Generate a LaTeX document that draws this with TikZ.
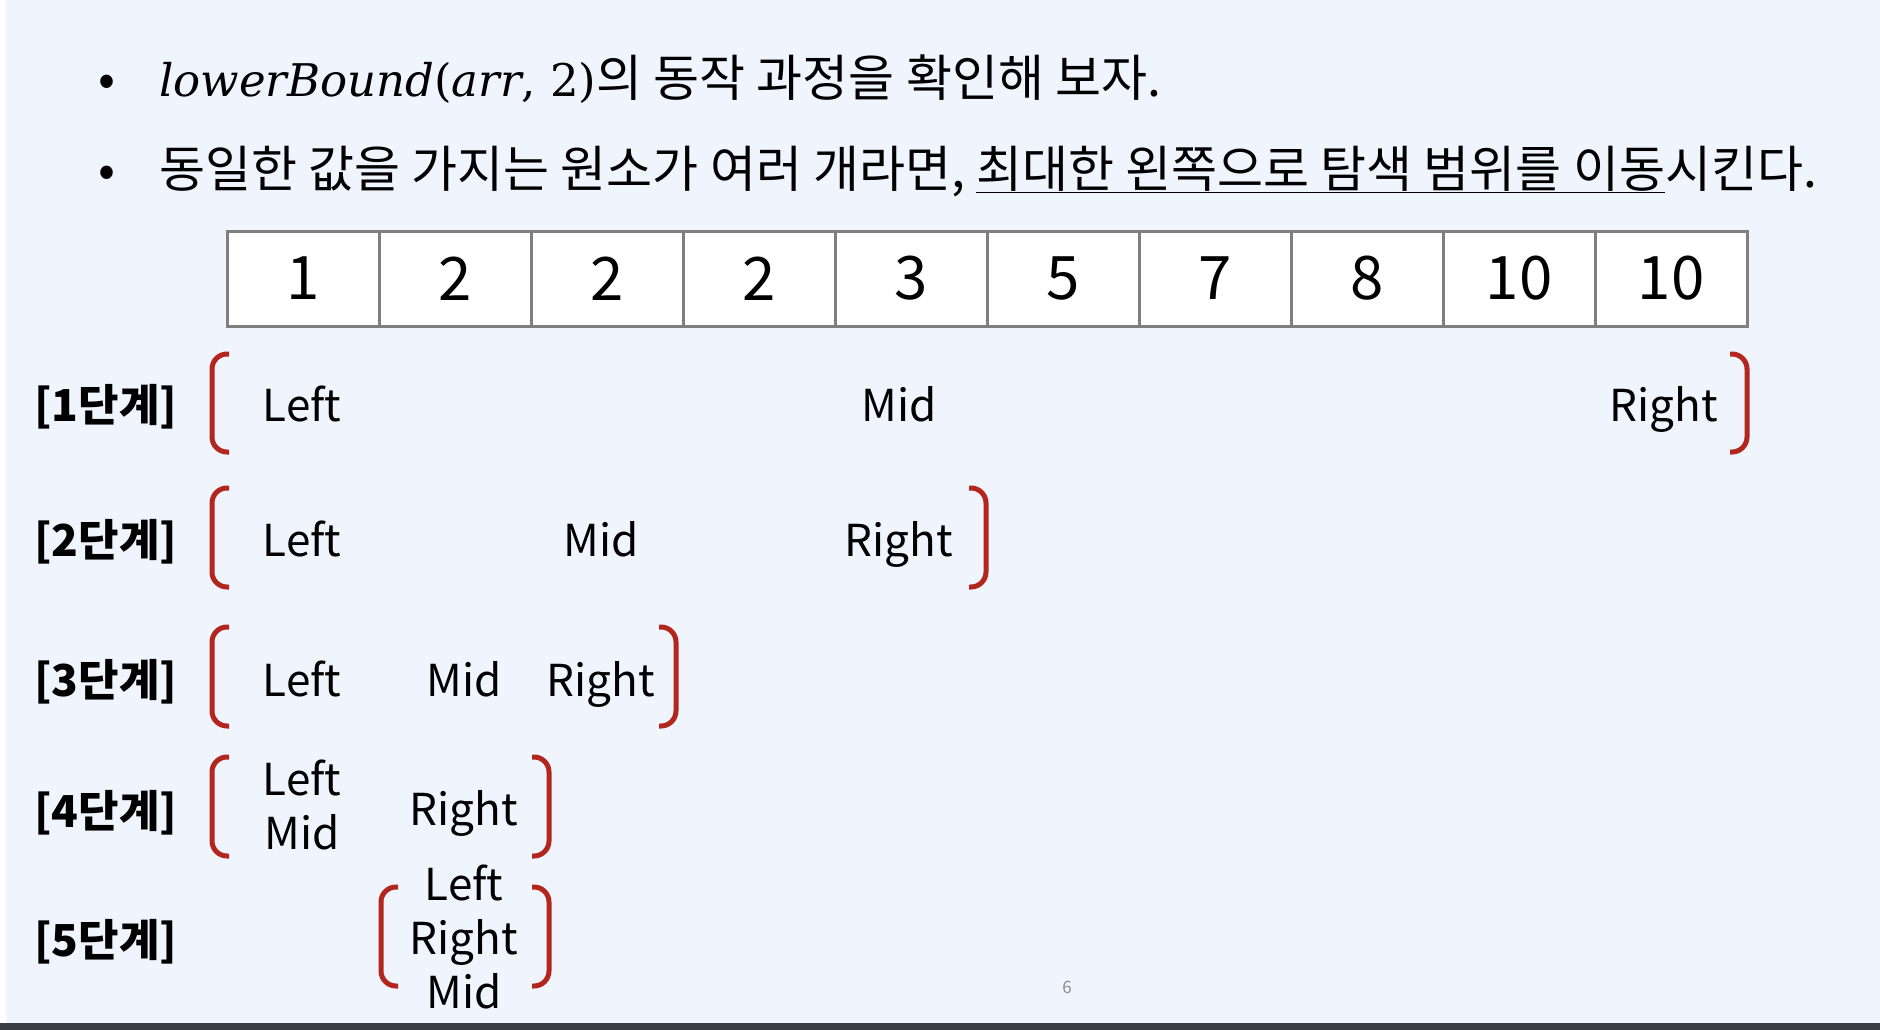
\documentclass[tikz,border=0pt]{standalone}
\usepackage{fontspec}
\setmainfont{Noto Sans CJK KR}
\newfontfamily\formfont{DejaVu Serif}
\usetikzlibrary{positioning}
\definecolor{slidebg}{HTML}{EFF4FD}
\definecolor{brackred}{HTML}{B3261E}
\definecolor{cellgray}{HTML}{7F7F7F}
\definecolor{bargray}{HTML}{3B3D42}
\definecolor{pagegray}{HTML}{8C8C8C}

\tikzset{
  cell/.style={draw=cellgray,line width=3pt,fill=white,minimum width=152pt,
    minimum height=95pt,inner sep=0pt,font=\fontsize{60}{60}\selectfont},
  lab/.style={anchor=base,inner sep=0pt,font=\fontsize{44}{44}\selectfont},
  stage/.style={anchor=base west,inner sep=0pt,font=\fontsize{44}{44}\selectfont\bfseries},
  bullet/.style={anchor=base west,inner sep=0pt,font=\fontsize{50}{50}\selectfont},
  brack/.style={draw=brackred,line width=5pt,rounded corners=15pt},
}
% opening / closing bracket: x, tip x, top, bottom
\newcommand{\brackpath}[4]{%
  \draw[brack] (#2,#3) -- (#1,#3) -- (#1,#4) -- (#2,#4);}
\newcommand{\formula}{{\fontsize{45}{45}\formfont{\itshape lowerBound}(\textit{arr}, 2)}}

\begin{document}
\begin{tikzpicture}[x=1pt,y=-1pt]
  \useasboundingbox (0,0) rectangle (1880,1030);
  \fill[slidebg] (0,0) rectangle (1880,1030);
  \fill[white] (0,0) rectangle (6,1023);
  \fill[bargray] (0,1023) rectangle (1880,1030);

  % title bullets
  \node[bullet] (b1) at (98,97) {•};
  \node[bullet] (t1) at (159,97) {\formula 의 동작 과정을 확인해 보자.};
  \node[bullet] (b2) at (98,187) {•};
  \node[bullet] (t2) at (159,187) {동일한 값을 가지는 원소가 여러 개라면, \underline{최대한 왼쪽으로 탐색 범위를 이동}시킨다.};

  % the array
  \foreach \v [count=\i from 0] in {1,2,2,2,3,5,7,8,10,10}
    \node[cell] (c\i) at (303+152*\i,278.5) {\v};

  % stage 1
  \node[stage] (s1) at (34,421) {[1단계]};
  \brackpath{212}{229}{354}{452}
  \node[lab] (l1) at (302,421) {Left};
  \node[lab] (m1) at (899,421) {Mid};
  \node[lab] (r1) at (1664,421) {Right};
  \brackpath{1747}{1730}{354}{452}

  % stage 2
  \node[stage] (s2) at (34,556) {[2단계]};
  \brackpath{212}{229}{488}{587}
  \node[lab] (l2) at (302,556) {Left};
  \node[lab] (m2) at (601,556) {Mid};
  \node[lab] (r2) at (899,556) {Right};
  \brackpath{986}{969}{488}{587}

  % stage 3
  \node[stage] (s3) at (34,696) {[3단계]};
  \brackpath{212}{229}{627}{726}
  \node[lab] (l3) at (302,696) {Left};
  \node[lab] (m3) at (464,696) {Mid};
  \node[lab] (r3) at (601,696) {Right};
  \brackpath{676}{659}{627}{726}

  % stage 4
  \node[stage] (s4) at (34,827) {[4단계]};
  \brackpath{212}{229}{757}{856}
  \node[lab] (l4) at (302,795) {Left};
  \node[lab] (m4) at (302,849) {Mid};
  \node[lab] (r4) at (464,825) {Right};
  \brackpath{549}{532}{757}{856}

  % stage 5
  \node[stage] (s5) at (34,956) {[5단계]};
  \brackpath{381}{398}{887}{986}
  \node[lab] (l5) at (464,900) {Left};
  \node[lab] (r5) at (464,954) {Right};
  \node[lab] (m5) at (464,1008) {Mid};
  \brackpath{549}{532}{887}{986}

  \node[pagegray,font=\fontsize{17}{17}\selectfont] (pg) at (1067,987) {6};
\end{tikzpicture}
\end{document}
